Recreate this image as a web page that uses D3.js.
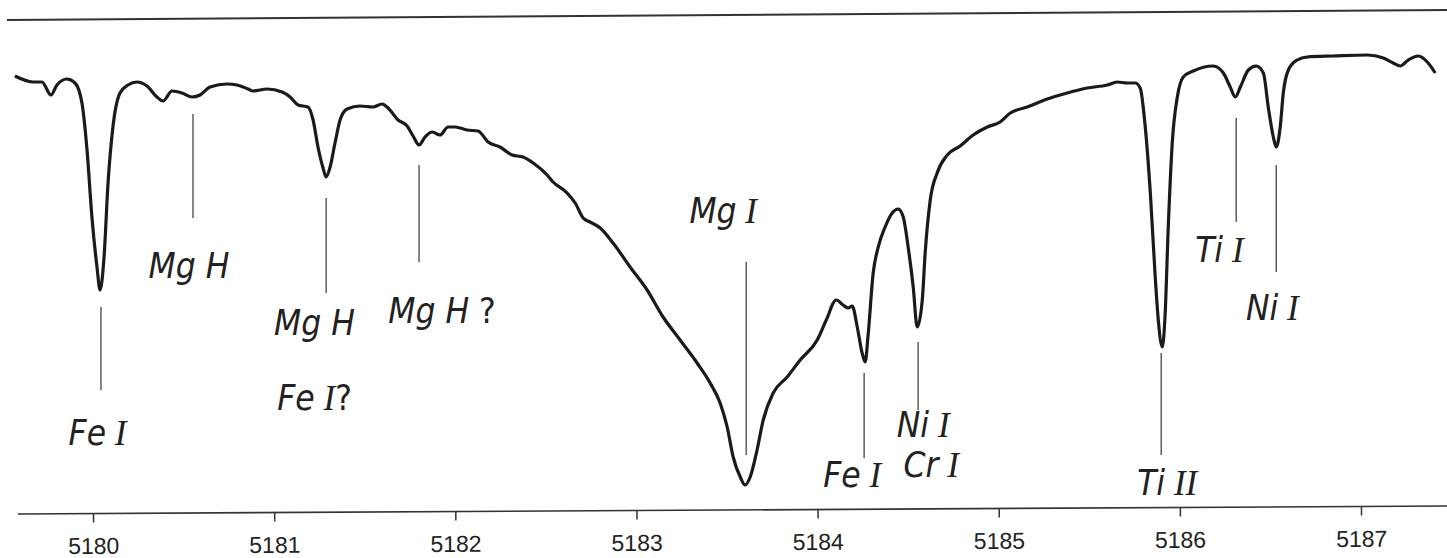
<!DOCTYPE html>
<html>
<head>
<meta charset="utf-8">
<script src="https://cdn.jsdelivr.net/npm/d3@7"></script>
<style>
body{margin:0;background:#fff;}
svg{display:block;}
</style>
</head>
<body>
<script>
//traced profile: wavelength (A) and relative intensity
var wave = [5179.569,5179.669,5179.718,5179.768,5179.801,5179.856,5179.901,5179.939,5179.967,5179.994,
5180.022,5180.039,5180.061,5180.083,5180.110,5180.149,5180.193,5180.243,5180.298,5180.353,
5180.387,5180.436,5180.491,5180.547,5180.591,5180.646,5180.740,5180.795,5180.856,5180.883,
5180.961,5181.044,5181.088,5181.132,5181.187,5181.215,5181.242,5181.270,5181.287,5181.309,
5181.336,5181.364,5181.403,5181.474,5181.546,5181.596,5181.629,5181.684,5181.734,5181.767,
5181.800,5181.833,5181.872,5181.916,5181.960,5181.999,5182.065,5182.126,5182.181,5182.247,
5182.314,5182.374,5182.430,5182.507,5182.540,5182.617,5182.662,5182.706,5182.744,5182.800,
5182.871,5182.965,5183.059,5183.147,5183.241,5183.335,5183.407,5183.462,5183.501,5183.534,
5183.573,5183.600,5183.628,5183.666,5183.700,5183.755,5183.832,5183.904,5183.998,5184.048,
5184.103,5184.141,5184.169,5184.191,5184.219,5184.246,5184.263,5184.279,5184.307,5184.335,
5184.373,5184.412,5184.445,5184.473,5184.500,5184.528,5184.550,5184.578,5184.594,5184.622,
5184.660,5184.716,5184.787,5184.859,5184.937,5185.008,5185.064,5185.157,5185.268,5185.378,
5185.489,5185.599,5185.654,5185.710,5185.754,5185.781,5185.809,5185.837,5185.864,5185.881,
5185.903,5185.919,5185.936,5185.958,5185.986,5186.019,5186.074,5186.184,5186.240,5186.278,
5186.306,5186.334,5186.378,5186.422,5186.461,5186.488,5186.516,5186.532,5186.554,5186.571,
5186.599,5186.648,5186.703,5186.847,5187.035,5187.123,5187.178,5187.217,5187.261,5187.316,
5187.366,5187.410];
var flux = [87.8,86.6,86.6,84.0,86.0,87.2,86.4,82.4,73.0,59.6,
49.6,45.0,51.6,66.4,77.6,84.4,86.0,86.6,85.8,83.6,
82.8,84.8,84.4,83.6,84.0,85.6,86.2,86.0,85.2,84.8,
85.2,84.6,83.6,82.0,81.6,79.0,73.6,69.4,67.6,69.6,
74.4,79.0,81.2,81.8,81.6,82.2,81.4,79.0,77.8,75.8,
74.0,75.6,76.6,76.0,77.6,77.6,77.0,76.8,74.6,73.6,
72.0,71.6,70.4,68.0,66.6,64.4,62.4,59.4,58.6,57.4,
54.4,49.6,45.0,39.6,35.0,30.4,26.4,22.4,17.6,11.6,
7.6,6.0,7.6,13.0,19.0,24.4,27.6,31.0,35.0,39.0,
43.0,42.0,41.4,41.8,37.6,32.4,30.6,36.0,48.4,53.6,
57.6,60.4,61.2,59.6,53.6,45.6,37.6,43.0,52.4,63.0,
68.4,72.0,73.8,76.0,77.6,78.6,80.4,81.6,83.2,84.4,
85.4,86.0,86.6,86.4,86.4,85.4,77.6,64.4,47.6,39.0,
33.6,40.4,57.6,74.4,83.6,87.6,88.8,89.8,88.4,85.6,
83.6,85.6,89.0,89.8,88.4,81.6,75.6,73.6,77.6,84.4,
89.0,91.0,91.6,91.8,92.0,91.4,90.4,89.8,91.0,91.8,
90.6,88.4];
var tickValues = [5180,5181,5182,5183,5184,5185,5186,5187];

//identified lines: wavelength and extent of the marker (intensity units)
var lineWave   = [5180.044,5180.552,5181.287,5181.800,5183.606,5184.257,5184.555,5185.897,5186.311,5186.532];
var leaderTop  = [41.6,80.2,63.4,70.0,50.6,28.4,34.6,32.4,79.4,70.0];
var leaderBot  = [25.0,59.4,44.4,50.6,12.0,11.4,21.0,12.0,58.6,48.6];

//labels: text, centre wavelength, baseline level
var labelText  = ["Fe I","Mg H","Mg H","Fe I?","Mg H ?","Mg I","Fe I","Ni I","Cr I","Ti II","Ti I","Ni I"];
var labelWave  = [5180.025,5180.530,5181.223,5181.223,5181.927,5183.479,5184.191,5184.583,5184.627,5185.930,5186.218,5186.510];
var labelLevel = [14.0,47.4,36.0,21.0,38.4,58.4,5.6,15.6,7.6,4.0,50.6,39.0];

var width = 1447, height = 558;
var sans = "'DejaVu Sans Condensed', 'Liberation Sans', Arial, sans-serif";
var x = d3.scaleLinear().domain([5180,5187]).range([93,1361]);
var y = d3.scaleLinear().domain([0,100]).range([515,15]);

var svg = d3.select("body").append("svg")
.attr("width", width)
.attr("height", height);

//top frame line (the scan is slightly tilted)
svg.append("g")
.attr("transform", "rotate(-0.4," + (width/2) + "," + y(100) + ")")
.append("line")
.attr("x1", 7)
.attr("x2", width)
.attr("y1", y(100)).attr("y2", y(100))
.attr("stroke", "#333")
.attr("stroke-width", 2);

//wavelength axis
var axis = svg.append("g")
.attr("transform", "translate(0,510) rotate(-0.32,732,0)")
.call(d3.axisBottom(x).tickValues(tickValues).tickSize(9).tickPadding(15).tickFormat(d3.format("d")));
axis.select(".domain").remove();
axis.append("line")
.attr("x1", 18).attr("x2", width)
.attr("y1", 0).attr("y2", 0)
.attr("stroke", "#333")
.attr("stroke-width", 1.6);
axis.selectAll(".tick line").attr("stroke", "#333").attr("stroke-width", 1.5);
axis.selectAll(".tick text")
.attr("fill", "#222")
.style("font-family", "'Liberation Sans', Arial, sans-serif")
.style("font-size", "23px");

//the profile
var pts = wave.map(function(d, i){ return [d, flux[i]]; });
var line = d3.line()
.x(function(d){ return x(d[0]); })
.y(function(d){ return y(d[1]); })
.curve(d3.curveMonotoneX);

svg.append("path")
.datum(pts)
.attr("d", line)
.attr("fill", "none")
.attr("stroke", "#1a1a1a")
.attr("stroke-width", 3.2)
.attr("stroke-linejoin", "round");

//marker lines
svg.append("g").selectAll("line")
.data(lineWave)
.enter().append("line")
.attr("x1", function(d){ return x(d); })
.attr("x2", function(d){ return x(d); })
.attr("y1", function(d, i){ return y(leaderTop[i]); })
.attr("y2", function(d, i){ return y(leaderBot[i]); })
.attr("stroke", "#444")
.attr("stroke-width", 1.3);

//labels: element in italic sans, ionisation stage as serif roman numeral
var labels = svg.append("g").selectAll("text")
.data(labelText)
.enter().append("text")
.attr("x", function(d, i){ return x(labelWave[i]); })
.attr("y", function(d, i){ return y(labelLevel[i]); })
.attr("text-anchor", "middle")
.attr("fill", "#222")
.style("font-size", "35px");

labels.each(function(d){
  var t = d3.select(this);
  var parts = d.split(" ");
  t.append("tspan")
  .style("font-family", sans)
  .style("font-style", "italic")
  .text(parts[0]);
  parts.slice(1).forEach(function(p){
    var m = p.match(/^(I+)(\?)?$/);
    if(m){
      t.append("tspan")
      .style("font-family", "'Liberation Serif', serif")
      .style("font-style", "italic")
      .text(" " + m[1]);
      if(m[2]) t.append("tspan").style("font-family", sans).text("?");
    } else {
      t.append("tspan")
      .style("font-family", sans)
      .style("font-style", p == "?" ? "normal" : "italic")
      .text(" " + p);
    }
  });
});
</script>
</body>
</html>
